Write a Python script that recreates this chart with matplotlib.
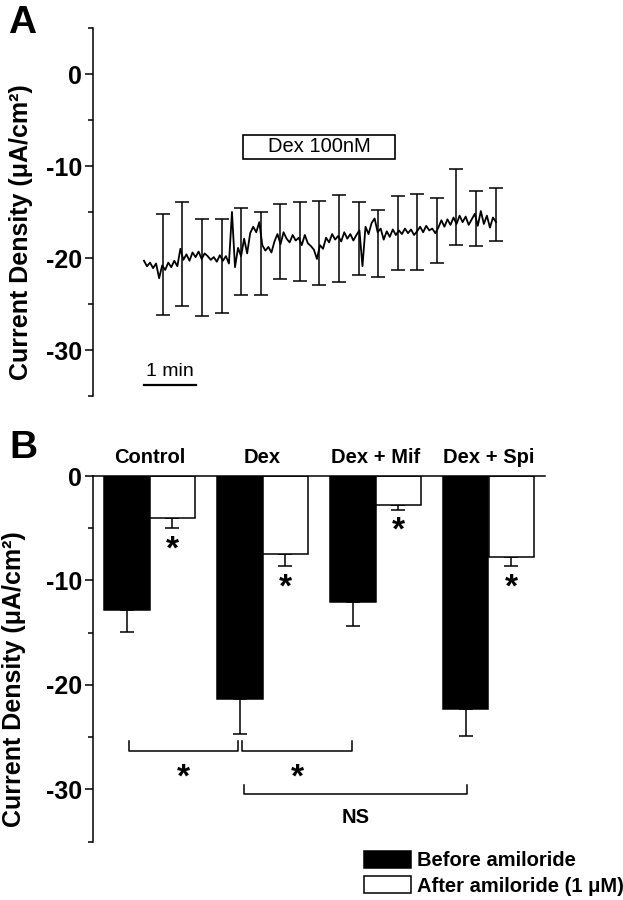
import numpy as np
import matplotlib.pyplot as plt
from matplotlib.patches import Rectangle, Patch

plt.rcParams['font.family'] = ['Liberation Sans', 'DejaVu Sans']
plt.rcParams['font.weight'] = 'bold'
plt.rcParams['axes.linewidth'] = 1.1
plt.rcParams['axes.unicode_minus'] = False

# ---- panel A: current density trace during Dex application ----
trace = [-20.3, -20.9, -20.5, -21.1, -20.6,
         -22.2, -20.8, -21.3,
         -20.5, -21.0, -20.3, -20.9, -19.0,
         -20.2, -19.6, -20.3, -19.4, -19.9, -19.3, -20.1, -19.5, -19.8, -20.2,
         -19.9, -20.4, -19.7, -20.3, -19.8, -20.6,
         -15.0, -21.0,
         -18.9, -19.8, -17.9, -19.5,
         -17.3, -16.6, -17.2, -16.1,
         -18.6, -19.2, -18.8, -19.4,
         -18.2, -17.4, -18.5, -17.2,
         -17.9, -18.3, -17.5, -18.1,
         -17.8, -18.6, -17.5, -18.4,
         -18.7, -19.1, -20.1, -18.6, -19.0,
         -17.8, -18.3, -17.4, -18.0,
         -17.6, -18.2, -17.2, -17.9, -17.4, -18.1, -17.5,
         -17.0, -20.9,
         -16.6, -17.4, -16.2, -15.7,
         -17.2, -16.8, -18.0, -17.1, -17.7, -16.9, -17.5,
         -17.0, -17.4, -16.8, -17.3, -16.9, -17.5, -17.1,
         -16.6, -17.2, -16.5, -17.0, -16.8, -17.3, -16.7,
         -15.9, -16.6, -15.8, -16.4,
         -15.6, -16.3, -15.4, -16.1, -15.5, -16.4, -15.8,
         -15.2, -16.5, -14.9, -16.3, -15.4, -16.7, -15.6, -16.1]
trace_end = 6.77  # min

err_t = [0.37, 0.73, 1.12, 1.50, 1.87, 2.25, 2.62, 3.00, 3.37,
         3.75, 4.13, 4.50, 4.88, 5.25, 5.63, 6.00, 6.38, 6.77]
err_mean = [-20.7, -19.6, -21.0, -20.9, -19.3, -19.5, -18.2, -18.2, -18.4,
            -17.9, -17.9, -18.4, -17.3, -17.2, -17.0, -14.5, -15.7, -15.3]
err_sd = [5.45, 5.65, 5.25, 5.13, 4.76, 4.5, 4.03, 4.33, 4.58,
          4.7, 3.95, 3.65, 4.0, 4.13, 3.55, 4.13, 2.95, 2.9]

stim_label = 'Dex 100nM'
stim_start, stim_end = 1.9, 4.83

# ---- panel B: amiloride-sensitive current ----
groups = ['Control', 'Dex', 'Dex + Mif', 'Dex + Spi']
before = [-12.8, -21.3, -12.1, -22.3]
before_err = [2.1, 3.4, 2.25, 2.6]
after = [-4.0, -7.45, -2.75, -7.8]
after_err = [1.0, 1.2, 0.5, 0.85]
brackets = [(-0.18, 0.78, -26.3, '*'), (0.82, 1.79, -26.3, '*'), (0.84, 2.81, -30.45, 'NS')]

ylab = 'Current Density (μA/cm²)'

fig = plt.figure(figsize=(6.23, 9.0), dpi=100)

# panel A
axA = fig.add_axes([93/623, 1-396/900, 507/623, 368/900])
t = np.linspace(0, trace_end, len(trace))
axA.plot(t, trace, color='black', lw=1.3)
axA.errorbar(err_t, err_mean, yerr=err_sd, fmt='none', ecolor='black',
             elinewidth=1.1, capsize=5, capthick=1.1)
axA.set_xlim(-0.98, 8.77)
axA.set_ylim(-35, 5)
axA.set_yticks([0, -10, -20, -30])
axA.set_yticks([5, -5, -15, -25, -35], minor=True)
for s in ['top', 'right', 'bottom']:
    axA.spines[s].set_visible(False)
axA.set_xticks([])
axA.tick_params(axis='y', which='major', length=6, width=1.1, labelsize=18, pad=2)
axA.tick_params(axis='y', which='minor', length=3.5, width=1.1)
axA.set_ylabel(ylab, fontsize=18, fontweight='bold')
axA.yaxis.set_label_coords(-0.118, 0.446)
axA.add_patch(Rectangle((stim_start, -9.25), stim_end - stim_start, 2.65,
                        fill=False, lw=1.2, ec='black'))
axA.text((stim_start + stim_end) / 2, -7.93, stim_label, ha='center', va='center',
         fontsize=14.5, fontweight='normal')
axA.plot([0, 1], [-33.8, -33.8], color='black', lw=1.6)
axA.text(0.5, -33.3, '1 min', ha='center', va='bottom', fontsize=14, fontweight='normal')

# panel B
axB = fig.add_axes([93/623, 1-841.7/900, 452/623, 365.7/900])
x = np.arange(len(groups))
w = 0.4
axB.bar(x - w/2, before, w, color='black', edgecolor='black', lw=1.1, zorder=2)
axB.bar(x + w/2, after, w, color='white', edgecolor='black', lw=1.1, zorder=2)
axB.errorbar(x - w/2, before, yerr=[before_err, [0]*4], fmt='none', ecolor='black',
             elinewidth=1.1, capsize=5, capthick=1.1, zorder=1)
axB.errorbar(x + w/2, after, yerr=[after_err, [0]*4], fmt='none', ecolor='black',
             elinewidth=1.1, capsize=5, capthick=1.1, zorder=1)
for xi, v, e in zip(x + w/2, after, after_err):
    axB.annotate('*', xy=(xi, v - e), xytext=(0, -21.5), textcoords='offset points',
                 ha='center', va='baseline', fontsize=24, fontweight='bold')
for x0, x1, yb, lab in brackets:
    axB.plot([x0, x0, x1, x1], [yb + 0.9, yb, yb, yb + 0.9], color='black', lw=1.1,
             clip_on=False)
    if lab == '*':
        axB.annotate(lab, xy=((x0 + x1) / 2, yb), xytext=(0, -25.5), textcoords='offset points',
                     ha='center', va='baseline', fontsize=24, fontweight='bold')
    else:
        axB.annotate(lab, xy=((x0 + x1) / 2, yb), xytext=(0, -20.5), textcoords='offset points',
                     ha='center', va='baseline', fontsize=14.5, fontweight='bold')
for xi, g in zip(x, groups):
    axB.text(xi, 1.25, g, ha='center', va='baseline', fontsize=14.5, fontweight='bold')
axB.set_xlim(-0.5, 3.5)
axB.set_ylim(-35, 0)
axB.set_yticks([0, -10, -20, -30])
axB.set_yticks([-5, -15, -25, -35], minor=True)
axB.spines['right'].set_visible(False)
axB.spines['bottom'].set_visible(False)
axB.set_xticks([])
axB.tick_params(axis='y', which='major', length=6, width=1.1, labelsize=18, pad=2)
axB.tick_params(axis='y', which='minor', length=3.5, width=1.1)
axB.set_ylabel(ylab, fontsize=18, fontweight='bold')
axB.yaxis.set_label_coords(-0.148, 0.445)

handles = [Patch(facecolor='black', edgecolor='black', lw=1.1),
           Patch(facecolor='white', edgecolor='black', lw=1.1)]
fig.legend(handles, ['Before amiloride', 'After amiloride (1 μM)'],
           loc='upper left', bbox_to_anchor=(364/623, 1-851/900), frameon=False,
           prop={'size': 14.5, 'weight': 'bold'}, handlelength=2.34, handleheight=0.9,
           handletextpad=0.3, labelspacing=0.3, borderpad=0, borderaxespad=0)

fig.text(8/623, 1-33/900, 'A', fontsize=28, fontweight='bold', va='baseline')
fig.text(9/623, 1-458/900, 'B', fontsize=28, fontweight='bold', va='baseline')

fig.savefig('out.png', dpi=100)
